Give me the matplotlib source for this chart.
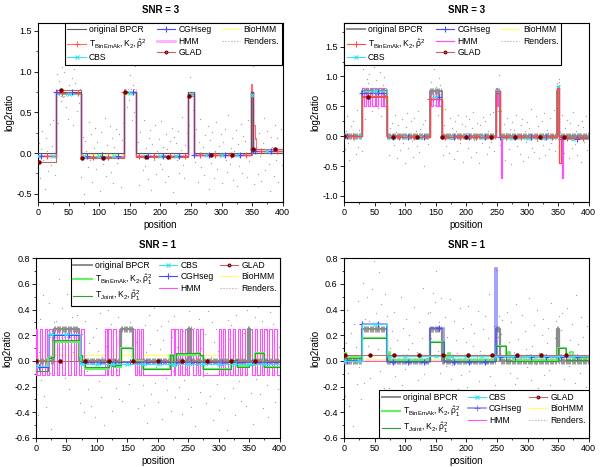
import matplotlib
matplotlib.use('Agg')
import matplotlib.pyplot as plt
from matplotlib.lines import Line2D
from matplotlib.ticker import MultipleLocator, AutoMinorLocator
import numpy as np

#===============================================================================#
# data: step segments (breakpoints, levels)            #
#===============================================================================#

# ---- top left, SNR = 3 -------------------------------------------------------
tl_bpcr = ([0, 30, 70, 140, 160, 245, 255, 348, 352, 400], [0, 0.75, 0, 0.75, 0, 0.75, 0, 0.75, 0])
tl_tbin = ([0, 30, 70, 140, 160, 245, 255, 348, 350, 352, 354, 356, 400],
           [-0.03, 0.74, -0.05, 0.75, -0.03, 0.72, -0.02, 0.85, 0.62, 0.35, 0.18, 0.03])
tl_cbs = ([0, 30, 70, 140, 160, 245, 255, 348, 352, 400], [-0.03, 0.73, -0.04, 0.74, -0.03, 0.73, -0.02, 0.71, 0.03])
tl_cgh = ([0, 30, 70, 140, 160, 245, 255, 348, 352, 400], [-0.03, 0.75, -0.04, 0.75, -0.03, 0.75, -0.02, 0.72, 0.03])
tl_hmm = ([0, 30, 70, 140, 160, 245, 255, 348, 352, 400], [-0.04, 0.74, -0.05, 0.75, -0.04, 0.74, -0.02, 0.75, 0.02])
tl_glad = ([0, 30, 70, 140, 160, 245, 255, 349, 351, 400], [-0.11, 0.77, -0.06, 0.75, -0.05, 0.70, -0.02, 0.75, 0.05])
tl_bio = ([0, 30, 70, 140, 160, 245, 255, 348, 352, 400], [0.0, 0.73, -0.01, 0.73, 0.0, 0.72, 0.0, 0.73, 0.0])
tl_ren = ([0, 30, 35, 45, 70, 140, 160, 245, 255, 348, 352, 400],
          [-0.02, 0.76, 0.70, 0.77, -0.03, 0.78, -0.02, 0.75, -0.01, 0.75, 0.0])

# ---- top right, SNR = 3 ------------------------------------------------------
tr_bpcr = ([0, 30, 70, 140, 160, 248, 255, 348, 352, 400], [0, 0.75, 0, 0.75, 0, 0.75, 0, 0.75, 0])
tr_tbin = ([0, 30, 70, 140, 160, 248, 255, 348, 352, 355, 400],
           [0.0, 0.68, -0.01, 0.63, -0.01, 0.75, -0.01, 0.80, -0.45, -0.03])
tr_cbs = ([0, 30, 70, 140, 160, 248, 255, 348, 352, 400], [0.01, 0.75, -0.02, 0.66, -0.02, 0.75, -0.03, 0.83, -0.05])
tr_cgh = ([0, 30, 70, 140, 160, 248, 255, 348, 352, 400], [0.01, 0.73, -0.01, 0.66, -0.01, 0.72, -0.02, 0.84, -0.05])
tr_hmm = ([0, 30, 33, 36, 40, 43, 46, 50, 53, 56, 60, 63, 66, 70, 140, 143, 146, 150, 153, 156, 160,
           248, 250, 252, 255, 256, 258, 348, 352, 356, 358, 400],
          [0.0, 0.8, 0.5, 0.8, 0.5, 0.8, 0.5, 0.8, 0.5, 0.8, 0.5, 0.8, 0.5, 0.0,
           0.75, 0.5, 0.75, 0.5, 0.75, 0.5, 0.0, 0.8, 0.5, 0.75, 0.0, -0.7, 0.0, 0.8, 0.0, -0.7, -0.02])
tr_glad = ([0, 30, 70, 140, 160, 248, 255, 348, 352, 400], [0.0, 0.66, -0.01, 0.63, -0.01, 0.75, -0.01, 0.75, -0.02])
tr_bio = ([0, 30, 70, 140, 160, 248, 255, 348, 352, 400], [0.0, 0.72, -0.02, 0.70, -0.02, 0.72, -0.02, 0.80, -0.03])
tr_ren = ([0, 30, 38, 46, 54, 62, 70, 140, 160, 248, 255, 348, 352, 400],
          [0.0, 0.80, 0.70, 0.80, 0.70, 0.80, -0.01, 0.75, -0.01, 0.78, -0.02, 0.90, -0.03])

# ---- bottom left, SNR = 1 ----------------------------------------------------
bl_bpcr = ([0, 30, 70, 140, 160, 250, 255, 348, 352, 400], [0, 0.25, 0, 0.25, 0, 0.25, 0, 0.25, 0])
bl_tbin = ([0, 20, 25, 30, 72, 75, 80, 120, 125, 130, 140, 160, 165, 175, 220, 225, 230, 262, 270, 275,
            320, 330, 350, 360, 375, 400],
           [-0.05, 0.02, 0.03, 0.15, 0.04, 0.01, -0.06, 0.0, -0.04, -0.05, 0.10, 0.01, 0.0, -0.06, 0.05,
            -0.04, 0.05, 0.06, 0.04, -0.06, 0.0, -0.04, -0.03, 0.06, -0.05])
bl_tjoint = ([0, 20, 25, 30, 72, 75, 80, 120, 125, 130, 140, 160, 165, 175, 220, 225, 230, 262, 270, 275,
              320, 330, 350, 360, 375, 400],
             [-0.08, 0.02, 0.03, 0.16, 0.05, 0.0, -0.05, 0.0, -0.04, -0.03, 0.10, 0.0, -0.01, -0.06, 0.05,
              -0.02, 0.06, 0.065, 0.05, -0.06, 0.01, -0.05, -0.02, 0.065, -0.05])
bl_cbs = ([0, 20, 72, 400], [-0.04, 0.21, -0.02])
bl_cgh = ([0, 20, 72, 400], [-0.05, 0.20, -0.01])
bl_hmm_high = [(0, 2), (6, 10), (14, 18), (22, 26), (30, 34), (38, 43), (48, 53), (58, 62), (66, 70), (74, 78),
               (113, 116), (119, 123), (127, 131), (137, 163), (166, 169), (172, 176),
               (222, 226), (229, 233), (237, 240), (244, 248), (252, 258), (262, 266), (270, 274),
               (300, 303), (307, 311), (315, 319), (323, 327), (331, 335), (339, 343), (347, 355),
               (359, 363), (367, 371), (375, 379), (383, 387), (391, 395)]
bl_hmm_levels = (-0.11, 0.25)
bl_glad = ([0, 400], [0.0])
bl_bio = ([0, 400], [0.05])
bl_ren = ([0, 20, 72, 400], [-0.03, 0.19, -0.01])

# ---- bottom right, SNR = 1 ---------------------------------------------------
br_bpcr = ([0, 30, 70, 140, 160, 248, 255, 348, 352, 400], [0, 0.25, 0, 0.25, 0, 0.25, 0, 0.25, 0])
br_tbin = ([0, 3, 30, 70, 73, 76, 140, 163, 166, 170, 174, 178, 248, 265, 268, 272, 276, 350, 362, 370, 374, 400],
           [0.06, 0.03, 0.18, 0.03, 0.07, 0.005, 0.145, 0.05, 0.02, 0.06, 0.03, 0.005, 0.12, 0.04, 0.07,
            0.03, 0.005, 0.10, 0.04, 0.07, 0.02])
br_tjoint = ([0, 30, 70, 140, 163, 248, 265, 350, 362, 400],
             [0.02, 0.175, 0.0, 0.145, 0.0, 0.12, 0.0, 0.10, 0.01])
br_cbs = ([0, 30, 70, 400], [0.0, 0.285, 0.035])
br_cgh = ([0, 30, 70, 140, 163, 247, 250, 400], [0.0, 0.285, -0.01, 0.26, -0.01, 0.72, 0.03])
br_hmm = ([0, 400], [0.0])
br_glad = ([0, 400], [0.045])
br_bio = ([0, 400], [0.01])
br_ren = ([0, 400], [0.005])

# ---- raw log2ratio deviations around the original profile (hundredths) ------
noise_tl = [12, -31, 5, 27, -8, -44, 19, 3, -22, 36, -15, 9, 41, -27, -3, 22, -38, 14, -11, 30,
            -6, 25, -19, 47, -33, 8, -2, 17, -41, 28, 11, -24, 35, -13, 4, -29, 20, -50, 15, 2,
            -17, 38, -9, 23, -35, 6, 31, -20, 13, -4, -46, 26, 1, -14, 43, -28, 10, -7, 33, -23,
            18, -37, 7, 29, -12, -1, 24, -42, 16, 37, -30, 3, -18, 45, -10, 21, -34, 9, -25, 32,
            -5, 14, -39, 26, 0, -21, 40, -16, 6, -32, 19, 28, -45, 11, -8, 34, -26, 2, 17, -13,
            39, -19, 8, -36, 23, 5, -28, 15, -3, 31, -48, 20, 12, -9, 27, -24, 4, 44, -15, -31,
            10, 25, -6, -40, 18, 35, -22, 1, -11, 29, -35, 13, 42, -17, 7, -27, 22, -2, 33, -44,
            16, -12, 26, -30, 3, 38, -20, 9, -5, 24, -37, 14, 30, -8, -23, 47, -14, 6, 19, -33,
            2, 28, -41, 11, -16, 36, -25, 21, -1, 15, -29, 41, -10, 5, -19, 32, -38, 17, 8, -26,
            25, -4, -34, 12, 43, -21, 0, 27, -13, -47, 20, 7, -28, 34, -9, 18, -36, 3, 29, -15]
noise_tr = [-21, 8, 34, -12, -39, 17, 2, 26, -7, -30, 44, -18, 11, 5, -25, 37, -3, -46, 21, 14,
            29, -9, -33, 6, 40, -15, 19, -27, 1, 32, -42, 10, 24, -6, -19, 47, -31, 13, -2, 22,
            -14, 35, 7, -37, 18, -23, 3, 28, -11, -44, 15, 39, -20, 0, 25, -8, -35, 31, 9, -16,
            42, -26, 12, -4, 20, -49, 27, 4, -13, 33, -29, 16, -1, 38, -22, 7, -40, 23, 11, -10,
            -32, 19, 45, -17, 2, -28, 30, -5, 14, -38, 26, 8, -24, 36, -12, 1, 21, -43, 17, 34,
            6, -20, 29, -35, 13, 41, -7, -26, 22, 3, -45, 18, -11, 32, -3, 25, -30, 9, -18, 37,
            -9, 40, -24, 15, 1, -33, 27, -14, 43, -6, 20, -39, 5, 31, -21, 12, -47, 24, 10, -2,
            35, -16, 4, -29, 19, 28, -41, 8, -10, 23, -34, 14, 46, -19, 2, -27, 33, -8, 17, -36,
            -4, 26, -15, 39, -31, 11, 6, -22, 30, -12, -1, 44, -25, 16, -40, 21, 7, -17, 36, -28,
            13, -5, 27, -37, 22, 0, -20, 41, -13, 9, -32, 18, 3, -43, 25, 15, -9, 34, -23, 5]
noise_bl = [18, -42, 7, 33, -15, 51, -27, 2, -36, 24, 45, -9, -53, 13, 30, -20, 6, -31, 39, -4,
            -24, 16, 55, -38, 1, 27, -12, -47, 35, 9, -18, 42, -29, 11, -6, 48, -33, 21, 4, -40,
            31, -8, -22, 14, 58, -35, 19, -1, -44, 26, 8, -16, 37, -28, 3, -50, 23, 12, -11, 40,
            -3, 29, -39, 17, 46, -21, -7, 34, -30, 10, -56, 25, 0, 38, -14, 20, -43, 5, 32, -25,
            52, -10, 15, -37, 22, -2, 44, -19, -34, 28, 7, -48, 36, 13, -26, 1, 41, -17, -5, 24,
            -32, 9, 27, -45, 16, 49, -13, -23, 31, 4, -39, 19, -8, 35, -28, 11, 54, -20, 2, -41,
            23, -15, 43, -6, -30, 14, 37, -36, 6, 26, -51, 18, -3, 33, -24, 10, 47, -12, 21, -33,
            -9, 39, -27, 3, 30, -46, 15, 25, -18, 8, -38, 45, -1, 20, -29, 12, -54, 32, 17, -7,
            28, -21, 5, -42, 36, 0, -16, 50, -31, 13, 22, -11, -35, 40, -4, 27, -25, 9, -49, 34,
            -14, 18, 42, -26, 1, 31, -37, 7, 24, -19, -44, 15, 38, -10, 29, -2, -32, 46, -22, 11]
noise_br = [-27, 14, 40, -9, -35, 22, 3, -51, 29, 11, -18, 47, -5, -30, 17, 36, -42, 8, 25, -13,
            6, -38, 31, -2, 53, -24, 12, -16, 44, -33, 19, 1, -46, 27, -8, 35, -21, 10, -55, 23,
            38, -12, -29, 16, 4, -41, 50, -19, 26, -6, 33, -36, 9, 20, -48, 14, -1, 42, -26, 7,
            -15, 30, -44, 18, 57, -10, -23, 2, 37, -32, 13, -7, 28, -50, 21, 45, -17, 5, -34, 24,
            11, -39, 34, -4, 19, -28, 48, -14, -3, 31, -45, 16, 6, -22, 41, -11, -37, 26, 0, 15,
            -20, 43, -8, 29, -52, 12, 22, -31, 3, 39, -16, 8, -43, 25, -1, 35, -27, 18, 52, -12,
            4, -33, 27, -19, 46, -6, 10, -40, 21, 32, -24, 1, -47, 38, 15, -9, 30, -35, 7, -18,
            44, -13, 17, -29, 2, 36, -41, 23, 9, -5, -25, 49, -15, 12, -36, 28, -2, 40, -21, 6,
            -30, 20, 33, -11, -44, 14, 26, -7, -19, 45, 3, -38, 18, 31, -26, 10, -53, 24, 37, -14,
            8, -23, 41, -4, 16, -32, 29, 0, -17, 51, -28, 13, -9, 34, -42, 19, 5, -20, 27, -37]

lbl_tbin_top = r'$\mathrm{T_{BinEmAk}, K_2, \hat{\rho}^2}$'
lbl_tbin_bot = r'$\mathrm{T_{BinEmAk}, K_2, \hat{\rho}_1^2}$'
lbl_tjoint = r'$\mathrm{T_{Joint}, K_2, \hat{\rho}_1^2}$'

#===============================================================================#
# style                                                                         #
#===============================================================================#

plt.rcParams['font.family'] = ['Liberation Sans', 'DejaVu Sans']
plt.rcParams['mathtext.fontset'] = 'custom'
plt.rcParams['mathtext.rm'] = 'Liberation Sans'
plt.rcParams['mathtext.it'] = 'Liberation Sans'
plt.rcParams['axes.unicode_minus'] = False

C_BPCR = '#5a5a5a'
C_BPCR2 = '#8c8c8c'
C_TBIN = '#ff4848'
C_CBS = '#38e4ec'
C_CGH = '#4a4aff'
C_HMM = '#ff50ff'
C_GLADL = '#b86a6a'
C_GLADM = '#7a0000'
C_BIO = '#ffff66'
C_REN = '#c48cc4'
C_TBING = '#66f066'
C_TJOINT = '#2f9f2f'
C_DOT = '#a8a8a8'

POS = np.arange(1, 400, 2)

#===============================================================================#
# helpers                                                                       #
#===============================================================================#

def levelAt( seg, pos ):
    b, v = seg
    i = np.clip( np.searchsorted( b, pos, side='right' ) - 1, 0, len(v) - 1 )
    return np.asarray( v, dtype=float )[ i ]

def drawStep( ax, seg, **kw ):
    b, v = seg
    ax.step( b, list(v) + [ v[-1] ], where='post', **kw )

def drawMarks( ax, seg, pos, **kw ):
    pos = np.asarray( pos )
    ax.plot( pos, levelAt( seg, pos ), linestyle='none', **kw )

def highsToSeg( highs, levels, end=400 ):
    lo, hi = levels
    b, v = [0], [lo]
    for s, e in highs:
        b += [s, e]
        v += [hi, lo]
    b.append( end )
    return b, v

def proxy( color, lw=0.8, marker=None, ms=3, mec=None, ls='-', alpha=1 ):
    return Line2D( [], [], color=color, lw=lw, marker=marker, ms=ms, ls=ls, alpha=alpha,
                   mec=mec if mec else color, mew=0.8 )

def setupAxes( ax, title, ylim, ystep ):
    ax.set_xlim( 0, 400 )
    ax.set_ylim( *ylim )
    ax.xaxis.set_major_locator( MultipleLocator( 50 ) )
    ax.yaxis.set_major_locator( MultipleLocator( ystep ) )
    ax.xaxis.set_minor_locator( AutoMinorLocator( 2 ) )
    ax.yaxis.set_minor_locator( AutoMinorLocator( 2 ) )
    ax.tick_params( which='major', direction='out', length=3, width=0.6, labelsize=6.5, pad=1.5 )
    ax.tick_params( which='minor', direction='out', length=1.6, width=0.5 )
    for s in ax.spines.values():
        s.set_linewidth( 0.8 )
    ax.set_title( title, fontsize=7, fontweight='bold', pad=7 )
    ax.set_xlabel( 'position', fontsize=7, labelpad=2 )
    ax.set_ylabel( 'log2ratio', fontsize=7, labelpad=1.5 )

def drawLegend( ax, handles, labels, bbox, loc ):
    leg = ax.legend( handles, labels, ncol=3, loc=loc, bbox_to_anchor=bbox, mode='expand',
                     fontsize=6.2, frameon=True, fancybox=False, edgecolor='black', framealpha=1,
                     borderpad=0.3, labelspacing=0.3, handlelength=2.1, handletextpad=0.4,
                     columnspacing=0.3, borderaxespad=0 )
    leg.get_frame().set_linewidth( 0.8 )
    return leg

def dots( ax, seg, noise ):
    ax.scatter( POS, levelAt( seg, POS ) + np.asarray( noise ) / 100.0, s=1.0, c=C_DOT,
                linewidths=0, zorder=1 )

#===============================================================================#
# figure                                                                        #
#===============================================================================#

fig = plt.figure( figsize=(6.0, 4.67), dpi=100 )
axTL = fig.add_axes( [0.0633, 0.5675, 0.408, 0.384] )
axTR = fig.add_axes( [0.5733, 0.5675, 0.408, 0.384] )
axBL = fig.add_axes( [0.0600, 0.0621, 0.406, 0.385] )
axBR = fig.add_axes( [0.5733, 0.0621, 0.408, 0.385] )

marks25 = np.arange( 0, 400, 25 )
marks40 = np.arange( 0, 400, 40 )

# top left-------------------------------------------------------------------#
ax = axTL
dots( ax, tl_bpcr, noise_tl )
drawStep( ax, tl_ren, color=C_REN, lw=0.8, ls=':', zorder=2 )
drawStep( ax, tl_bio, color=C_BIO, lw=0.8, zorder=2 )
drawStep( ax, tl_hmm, color=C_HMM, lw=1.8, alpha=0.45, zorder=3 )
drawStep( ax, tl_glad, color=C_GLADL, lw=0.8, zorder=3 )
drawMarks( ax, tl_glad, np.arange( 2, 400, 35 ), marker='o', ms=2.2, color=C_GLADM, zorder=6 )
drawStep( ax, tl_cgh, color=C_CGH, lw=0.7, zorder=4 )
drawMarks( ax, tl_cgh, marks25 + 5, marker='+', ms=4, color=C_CGH, mew=0.8, zorder=5 )
drawStep( ax, tl_cbs, color=C_CBS, lw=0.7, zorder=4 )
drawMarks( ax, tl_cbs, marks25, marker='x', ms=3, color=C_CBS, mew=0.8, zorder=5 )
drawStep( ax, tl_tbin, color=C_TBIN, lw=0.8, alpha=0.8, zorder=4 )
drawMarks( ax, tl_tbin, marks25 + 15, marker='+', ms=4, color=C_TBIN, mew=0.8, zorder=5 )
drawStep( ax, tl_bpcr, color=C_BPCR, lw=0.8, zorder=4 )
setupAxes( ax, 'SNR = 3', (-0.6, 1.6), 0.5 )
h = [ proxy( C_BPCR ), proxy( C_TBIN, marker='+', ms=4, alpha=0.8 ), proxy( C_CBS, marker='x' ),
      proxy( C_CGH, marker='+', ms=4 ), proxy( C_HMM, lw=2, alpha=0.45 ), proxy( C_GLADL, marker='o', ms=2, mec=C_GLADM ),
      proxy( C_BIO ), proxy( C_REN, ls=':' ) ]
l = [ 'original BPCR', lbl_tbin_top, 'CBS', 'CGHseg', 'HMM', 'GLAD', 'BioHMM', 'Renders.' ]
drawLegend( ax, h, l, (0.11, 0.0, 0.885, 1.0), 'upper left' )

# top right------------------------------------------------------------------#
ax = axTR
dots( ax, tr_bpcr, noise_tr )
drawStep( ax, tr_ren, color=C_REN, lw=0.9, ls=':', zorder=2 )
drawStep( ax, tr_bio, color=C_BIO, lw=0.8, zorder=2 )
drawStep( ax, tr_hmm, color=C_HMM, lw=0.9, zorder=3 )
drawStep( ax, tr_bpcr, color=C_BPCR2, lw=1.4, zorder=3 )
drawMarks( ax, tr_bpcr, np.arange( 0, 400, 2 ), marker='|', ms=4, color=C_BPCR2, mew=0.6, zorder=3 )
drawStep( ax, tr_glad, color=C_GLADL, lw=0.8, zorder=4 )
drawMarks( ax, tr_glad, marks40, marker='o', ms=2.2, color=C_GLADM, zorder=6 )
drawStep( ax, tr_cgh, color=C_CGH, lw=0.7, zorder=4 )
drawMarks( ax, tr_cgh, marks25 + 5, marker='+', ms=4, color=C_CGH, mew=0.8, zorder=5 )
drawStep( ax, tr_cbs, color=C_CBS, lw=0.7, zorder=4 )
drawMarks( ax, tr_cbs, marks25, marker='x', ms=3, color=C_CBS, mew=0.8, zorder=5 )
drawStep( ax, tr_tbin, color=C_TBIN, lw=0.9, zorder=5 )
drawMarks( ax, tr_tbin, marks25 + 15, marker='+', ms=4, color=C_TBIN, mew=0.8, zorder=5 )
setupAxes( ax, 'SNR = 3', (-1.1, 1.9), 0.5 )
h = [ proxy( C_BPCR2, lw=1.4 ), proxy( C_TBIN, marker='+', ms=4 ), proxy( C_CBS, marker='x' ),
      proxy( C_CGH, marker='+', ms=4 ), proxy( C_HMM, lw=0.9 ), proxy( C_GLADL, marker='o', ms=2, mec=C_GLADM ),
      proxy( C_BIO ), proxy( C_REN, ls=':' ) ]
drawLegend( ax, h, l, (0.0, 0.0, 0.886, 1.0), 'upper left' )

# bottom left----------------------------------------------------------------#
ax = axBL
bl_hmm = highsToSeg( bl_hmm_high, bl_hmm_levels )
dots( ax, bl_bpcr, noise_bl )
drawStep( ax, bl_ren, color=C_REN, lw=0.8, ls=':', zorder=2 )
drawStep( ax, bl_bio, color=C_BIO, lw=0.9, zorder=2 )
drawStep( ax, bl_hmm, color=C_HMM, lw=0.8, zorder=3 )
drawStep( ax, bl_bpcr, color=C_BPCR2, lw=1.6, zorder=3 )
drawMarks( ax, bl_bpcr, np.arange( 0, 400, 2 ), marker='|', ms=4, color=C_BPCR2, mew=0.6, zorder=3 )
drawStep( ax, bl_tbin, color=C_TBING, lw=1.6, zorder=4 )
drawStep( ax, bl_tjoint, color=C_TJOINT, lw=0.8, zorder=4 )
drawStep( ax, bl_cgh, color=C_CGH, lw=0.7, zorder=5 )
drawMarks( ax, bl_cgh, marks25 + 5, marker='+', ms=4, color=C_CGH, mew=0.8, zorder=5 )
drawStep( ax, bl_cbs, color=C_CBS, lw=0.7, zorder=5 )
drawMarks( ax, bl_cbs, marks25, marker='x', ms=3, color=C_CBS, mew=0.8, zorder=5 )
drawStep( ax, bl_glad, color=C_GLADL, lw=0.7, zorder=5 )
drawMarks( ax, bl_glad, marks40, marker='o', ms=2.2, color=C_GLADM, zorder=6 )
setupAxes( ax, 'SNR = 1', (-0.6, 0.8), 0.2 )
h = [ proxy( C_BPCR2, lw=1.4 ), proxy( C_TBING, lw=1.6 ), proxy( C_TJOINT ),
      proxy( C_CBS, marker='x' ), proxy( C_CGH, marker='+', ms=4 ), proxy( C_HMM ),
      proxy( C_GLADL, marker='o', ms=2, mec=C_GLADM ), proxy( C_BIO ), proxy( C_REN, ls=':' ) ]
lb = [ 'original BPCR', lbl_tbin_bot, lbl_tjoint, 'CBS', 'CGHseg', 'HMM', 'GLAD', 'BioHMM', 'Renders.' ]
drawLegend( ax, h, lb, (0.143, 0.0, 0.857, 1.0), 'upper left' )

# bottom right---------------------------------------------------------------#
ax = axBR
dots( ax, br_bpcr, noise_br )
drawStep( ax, br_ren, color=C_REN, lw=0.8, ls=':', zorder=2 )
drawStep( ax, br_bio, color=C_BIO, lw=1.2, zorder=2 )
drawStep( ax, br_hmm, color=C_HMM, lw=0.8, zorder=2 )
drawStep( ax, br_bpcr, color=C_BPCR2, lw=1.6, zorder=3 )
drawMarks( ax, br_bpcr, np.arange( 0, 400, 2 ), marker='|', ms=4, color=C_BPCR2, mew=0.6, zorder=3 )
drawStep( ax, br_tbin, color=C_TBING, lw=1.4, zorder=4 )
drawStep( ax, br_tjoint, color=C_TJOINT, lw=0.8, zorder=4 )
drawStep( ax, br_cgh, color=C_CGH, lw=1.2, alpha=0.6, zorder=5 )
drawMarks( ax, br_cgh, marks25 + 5, marker='+', ms=4, color=C_CGH, mew=0.8, zorder=5 )
drawStep( ax, br_cbs, color=C_CBS, lw=0.7, zorder=5 )
drawMarks( ax, br_cbs, marks25, marker='x', ms=3, color=C_CBS, mew=0.8, zorder=5 )
drawStep( ax, br_glad, color=C_GLADL, lw=0.7, zorder=5 )
drawMarks( ax, br_glad, marks40 + 2, marker='o', ms=2.2, color=C_GLADM, zorder=6 )
setupAxes( ax, 'SNR = 1', (-0.6, 0.8), 0.2 )
h = [ proxy( C_BPCR2, lw=1.4 ), proxy( C_TBING, lw=1.6 ), proxy( C_TJOINT ),
      proxy( C_CBS, marker='x' ), proxy( C_CGH, marker='+', ms=4, alpha=0.6, lw=1.2 ), proxy( C_HMM ),
      proxy( C_GLADL, marker='o', ms=2, mec=C_GLADM ), proxy( C_BIO ), proxy( C_REN, ls=':' ) ]
drawLegend( ax, h, lb, (0.143, 0.0, 0.857, 1.0), 'lower left' )

fig.savefig( 'out.png', dpi=100 )
plt.close( fig )
